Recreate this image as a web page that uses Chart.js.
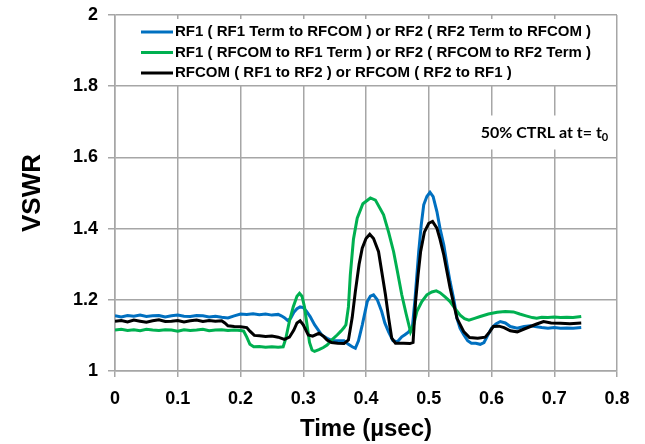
<!DOCTYPE html>
<html>
<head>
<meta charset="utf-8">
<script src="https://cdn.jsdelivr.net/npm/chart.js@4.4.1/dist/chart.umd.min.js"></script>
<style>
  html, body { margin: 0; padding: 0; background: #fff; }
  #wrap { width: 645px; height: 444px; }
</style>
</head>
<body>
<div id="wrap"><canvas id="vswr_chart" width="645" height="444"></canvas></div>
<script>
// series labels
var seriesNames = [
  'RF1 ( RF1 Term to RFCOM ) or RF2 ( RF2 Term to RFCOM )',
  'RF1 ( RFCOM to RF1 Term ) or RF2 ( RFCOM to RF2 Term )',
  'RFCOM ( RF1 to RF2 ) or RFCOM ( RF2 to RF1 )'
];

// blue: RF1/RF2 term to RFCOM
var blueTime = [0,0.01,0.02,0.03,0.04,0.05,0.06,0.07,0.08,0.09,0.1,0.11,0.12,0.13,0.14,0.15,0.16,0.17,0.18,0.19,
  0.2,0.21,0.22,0.23,0.24,0.25,0.26,0.265,0.27,0.275,0.28,0.285,0.29,0.295,0.3,0.305,0.311,0.318,0.324,0.33,0.338,
  0.345,0.355,0.365,0.372,0.378,0.383,0.388,0.394,0.402,0.407,0.412,0.418,0.425,0.43,0.436,0.443,0.45,0.457,0.462,
  0.468,0.474,0.478,0.484,0.488,0.492,0.497,0.502,0.507,0.513,0.518,0.524,0.529,0.534,0.54,0.545,0.55,0.556,0.562,
  0.568,0.575,0.582,0.588,0.594,0.6,0.607,0.614,0.622,0.63,0.641,0.652,0.662,0.672,0.68,0.69,0.7,0.71,0.72,0.73,0.743];
var blueVswr = [1.155,1.152,1.156,1.154,1.157,1.153,1.155,1.156,1.152,1.155,1.157,1.154,1.153,1.156,1.155,1.152,1.154,1.151,1.149,1.155,
  1.16,1.159,1.161,1.158,1.16,1.157,1.159,1.155,1.15,1.142,1.148,1.165,1.175,1.18,1.178,1.168,1.153,1.13,1.115,1.1,1.092,
  1.086,1.085,1.085,1.075,1.068,1.064,1.085,1.129,1.195,1.21,1.214,1.2,1.167,1.135,1.11,1.085,1.082,1.096,1.102,
  1.11,1.125,1.2,1.335,1.41,1.467,1.49,1.502,1.49,1.448,1.4,1.354,1.3,1.251,1.2,1.148,1.12,1.101,1.085,
  1.078,1.078,1.075,1.08,1.1,1.12,1.132,1.139,1.135,1.125,1.12,1.125,1.127,1.124,1.122,1.12,1.122,1.12,1.121,1.12,1.122];

// green: RFCOM to RF1/RF2 term
var greenTime = [0,0.01,0.02,0.03,0.04,0.05,0.06,0.07,0.08,0.09,0.1,0.11,0.12,0.13,0.14,0.15,0.16,0.17,0.18,0.19,
  0.2,0.205,0.21,0.215,0.221,0.23,0.24,0.25,0.26,0.268,0.272,0.278,0.284,0.29,0.294,0.298,0.302,0.306,0.31,0.314,
  0.318,0.325,0.332,0.338,0.346,0.354,0.36,0.365,0.368,0.372,0.375,0.38,0.386,0.395,0.407,0.415,0.428,0.436,0.444,
  0.45,0.457,0.464,0.471,0.476,0.481,0.489,0.497,0.505,0.512,0.518,0.526,0.534,0.542,0.55,0.557,0.564,0.573,0.582,
  0.595,0.609,0.622,0.635,0.645,0.655,0.665,0.672,0.68,0.69,0.7,0.71,0.72,0.73,0.743];
var greenVswr = [1.115,1.117,1.114,1.116,1.113,1.117,1.115,1.114,1.116,1.115,1.112,1.116,1.114,1.115,1.117,1.113,1.115,1.116,1.114,1.115,
  1.114,1.112,1.095,1.075,1.068,1.069,1.067,1.068,1.067,1.068,1.09,1.14,1.18,1.21,1.218,1.21,1.18,1.13,1.08,1.059,
  1.055,1.06,1.066,1.073,1.088,1.101,1.112,1.122,1.13,1.18,1.27,1.37,1.429,1.47,1.486,1.48,1.439,1.39,1.335,
  1.28,1.214,1.16,1.11,1.13,1.167,1.195,1.214,1.222,1.225,1.22,1.208,1.195,1.175,1.157,1.147,1.143,1.148,1.153,
  1.16,1.165,1.167,1.166,1.16,1.155,1.15,1.148,1.151,1.15,1.152,1.15,1.151,1.15,1.153];

// black: RFCOM RF1 <-> RF2
var blackTime = [0,0.01,0.02,0.03,0.04,0.05,0.06,0.07,0.08,0.09,0.1,0.11,0.12,0.13,0.14,0.15,0.16,0.17,0.175,0.18,0.19,
  0.2,0.21,0.215,0.222,0.23,0.24,0.25,0.26,0.27,0.278,0.285,0.29,0.295,0.3,0.308,0.315,0.325,0.332,0.338,0.345,0.355,
  0.365,0.372,0.378,0.383,0.389,0.394,0.4,0.406,0.412,0.42,0.425,0.431,0.436,0.441,0.447,0.46,0.47,0.475,0.479,0.483,
  0.487,0.493,0.5,0.506,0.513,0.518,0.524,0.534,0.545,0.556,0.565,0.578,0.59,0.597,0.603,0.612,0.62,0.63,0.641,0.652,
  0.662,0.672,0.683,0.695,0.71,0.725,0.743];
var blackVswr = [1.14,1.142,1.138,1.143,1.14,1.137,1.141,1.144,1.139,1.14,1.142,1.138,1.141,1.143,1.139,1.142,1.14,1.141,1.135,1.127,1.125,
  1.124,1.122,1.112,1.1,1.099,1.097,1.098,1.095,1.089,1.095,1.115,1.135,1.141,1.13,1.101,1.098,1.106,1.098,1.087,1.08,1.078,
  1.077,1.087,1.15,1.223,1.3,1.345,1.372,1.384,1.372,1.335,1.28,1.214,1.15,1.092,1.078,1.078,1.077,1.08,1.195,1.27,
  1.335,1.39,1.415,1.42,1.401,1.37,1.326,1.233,1.148,1.11,1.094,1.092,1.095,1.11,1.125,1.126,1.122,1.113,1.11,1.118,
  1.125,1.132,1.139,1.135,1.134,1.133,1.135];

var seriesColors = ['#0070C0', '#00B050', '#000000'];
var xTicks = [0, 0.1, 0.2, 0.3, 0.4, 0.5, 0.6, 0.7, 0.8];
var yTicks = [1, 1.2, 1.4, 1.6, 1.8, 2];
var noteText = '50% CTRL at t= t';
var noteSub = '0';

function toPoints(t, v) {
  return t.map(function(x, i) { return { x: x, y: v[i] }; });
}

// legend + note drawn inside the plot, like the excel chart
var insideLegend = {
  id: 'insideLegend',
  afterDatasetsDraw: function(chart) {
    var ctx = chart.ctx;
    var area = chart.chartArea;
    var xs = chart.scales.x, ys = chart.scales.y;
    ctx.save();
    ctx.fillStyle = '#ffffff';
    ctx.fillRect(area.left + 2, area.top + 4, area.right - area.left - 4, 66);

    ctx.font = 'bold 15px "Liberation Sans", Arial, sans-serif';
    ctx.textBaseline = 'middle';
    chart.data.datasets.forEach(function(ds, i) {
      var y = area.top + 17 + i * 20.5;
      ctx.strokeStyle = ds.borderColor;
      ctx.lineWidth = 3;
      ctx.beginPath();
      ctx.moveTo(area.left + 26, y);
      ctx.lineTo(area.left + 58, y);
      ctx.stroke();
      ctx.fillStyle = '#000';
      ctx.fillText(ds.label, area.left + 60, y);
    });

    // note box
    var nx = xs.getPixelForValue(0.786);
    var ny = ys.getPixelForValue(1.67);
    ctx.font = 'bold 16px Lato, "Open Sans", sans-serif';
    var w1 = ctx.measureText(noteText).width;
    ctx.font = 'bold 11px Lato, "Open Sans", sans-serif';
    var w2 = ctx.measureText(noteSub).width;
    ctx.fillStyle = '#ffffff';
    ctx.fillRect(nx - w1 - w2 - 6, ny - 17, w1 + w2 + 10, 34);
    ctx.fillStyle = '#000';
    ctx.textAlign = 'left';
    ctx.font = 'bold 16px Lato, "Open Sans", sans-serif';
    ctx.fillText(noteText, nx - w1 - w2, ny);
    ctx.font = 'bold 11px Lato, "Open Sans", sans-serif';
    ctx.fillText(noteSub, nx - w2, ny + 5);
    ctx.restore();
  }
};

var ctx = document.getElementById('vswr_chart');

var vswrChart = new Chart(ctx, {
  type: 'line',
  data: {
    datasets: [
      { label: seriesNames[0], data: toPoints(blueTime, blueVswr), borderColor: seriesColors[0], order: 3 },
      { label: seriesNames[1], data: toPoints(greenTime, greenVswr), borderColor: seriesColors[1], order: 2 },
      { label: seriesNames[2], data: toPoints(blackTime, blackVswr), borderColor: seriesColors[2], order: 1 }
    ]
  },
  options: {
    responsive: false,
    animation: false,
    devicePixelRatio: 1,
    layout: { padding: { top: 15, right: 28, left: 0, bottom: 0 } },
    elements: {
      line: { borderWidth: 3, tension: 0 },
      point: { radius: 0 }
    },
    plugins: {
      legend: { display: false },
      tooltip: { enabled: false }
    },
    scales: {
      x: {
        type: 'linear',
        min: 0,
        max: 0.8,
        afterBuildTicks: function(scale) {
          scale.ticks = xTicks.map(function(v) { return { value: v }; });
        },
        afterFit: function(scale) { scale.height = 73; },
        grid: { color: '#a6a6a6', lineWidth: 1.5, tickLength: 6 },
        border: { color: '#a6a6a6', width: 1.5 },
        ticks: {
          color: '#000',
          padding: 11,
          maxRotation: 0,
          font: { family: '"Liberation Sans", Arial, sans-serif', size: 18, weight: 'bold' },
          callback: function(v) { return String(v); }
        },
        title: {
          display: true,
          text: 'Time (µsec)',
          color: '#000',
          padding: { top: 0, bottom: 0 },
          font: { family: '"Liberation Sans", Arial, sans-serif', size: 24, weight: 'bold' }
        }
      },
      y: {
        min: 1,
        max: 2,
        afterBuildTicks: function(scale) {
          scale.ticks = yTicks.map(function(v) { return { value: v }; });
        },
        afterFit: function(scale) {
          scale.width = 115;
          scale.paddingTop = 0;
          scale.paddingBottom = 0;
        },
        grid: { color: '#a6a6a6', lineWidth: 1.5, tickLength: 7 },
        border: { color: '#a6a6a6', width: 1.5 },
        ticks: {
          color: '#000',
          padding: 10,
          font: { family: '"Liberation Sans", Arial, sans-serif', size: 18, weight: 'bold' },
          callback: function(v) { return String(v); }
        },
        title: {
          display: true,
          text: 'VSWR',
          color: '#000',
          padding: { top: 17, bottom: 0 },
          font: { family: '"Liberation Sans", Arial, sans-serif', size: 26, weight: 'bold' }
        }
      }
    }
  },
  plugins: [insideLegend]
});
</script>
</body>
</html>
